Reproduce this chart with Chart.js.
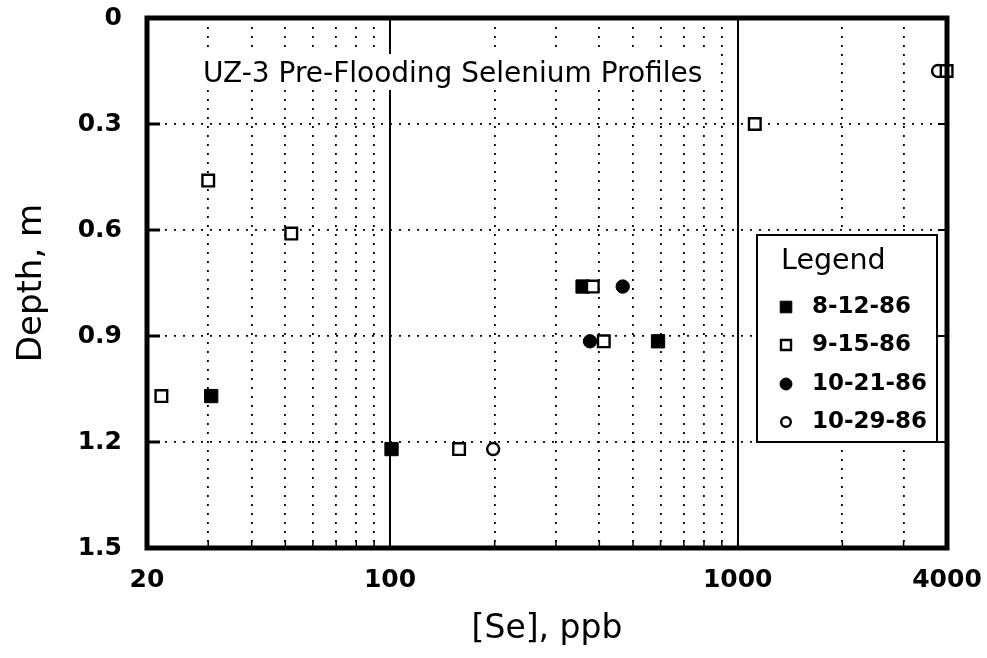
<!DOCTYPE html>
<html>
<head>
<meta charset="utf-8">
<script src="https://cdn.jsdelivr.net/npm/chart.js@4/dist/chart.umd.min.js"></script>
<style>
html,body{margin:0;padding:0;background:#fff;}
#wrap{position:relative;width:987px;height:658px;}
</style>
</head>
<body>
<div id="wrap"><canvas id="c" width="987" height="658"></canvas></div>
<script>
// ---- data ----
const seriesLabels = ['8-12-86', '9-15-86', '10-21-86', '10-29-86'];

const se_081286    = [30.6, 101, 358, 590];
const depth_081286 = [1.07, 1.22, 0.76, 0.915];

const se_091586    = [22, 30, 52, 158, 383, 412, 1120, 3990];
const depth_091586 = [1.07, 0.46, 0.61, 1.22, 0.76, 0.915, 0.30, 0.15];

const se_102186    = [376, 467];
const depth_102186 = [0.915, 0.76];

const se_102986    = [198, 3770];
const depth_102986 = [1.22, 0.15];

const xGridValues  = [20, 30, 40, 50, 60, 70, 80, 90, 100, 200, 300, 400, 500, 600, 700, 800, 900, 1000, 2000, 3000, 4000];
const xTickLabels  = [20, 100, 1000, 4000];
const xSolidLines  = [100, 1000];
const yTickValues  = [0, 0.3, 0.6, 0.9, 1.2, 1.5];
const yTickLabels  = ['0', '0.3', '0.6', '0.9', '1.2', '1.5'];

const chartTitle = 'UZ-3 Pre-Flooding Selenium Profiles';
const xTitle = '[Se], ppb';
const yTitle = 'Depth, m';
const legendTitle = 'Legend';

const FONT = "'DejaVu Sans', sans-serif";

function pts(xs, ys) { return xs.map((x, i) => ({ x: x, y: ys[i] })); }

const datasets = [
  { label: seriesLabels[0], data: pts(se_081286, depth_081286), pointStyle: 'rect', pointRadius: 9.4,
    backgroundColor: '#000', borderColor: '#000', borderWidth: 1, order: 3, clip: false },
  { label: seriesLabels[1], data: pts(se_091586, depth_091586), pointStyle: 'rect', pointRadius: 8.2,
    backgroundColor: '#fff', borderColor: '#000', borderWidth: 2.4, order: 0, clip: false },
  { label: seriesLabels[2], data: pts(se_102186, depth_102186), pointStyle: 'circle', pointRadius: 6.7,
    backgroundColor: '#000', borderColor: '#000', borderWidth: 1, order: 2, clip: false },
  { label: seriesLabels[3], data: pts(se_102986, depth_102986), pointStyle: 'circle', pointRadius: 6,
    backgroundColor: '#fff', borderColor: '#000', borderWidth: 2.4, order: 1, clip: false }
];

const decorPlugin = {
  id: 'decor',
  beforeDatasetsDraw(chart) {
    // white band behind the in-plot title (grid is interrupted there)
    const ctx = chart.ctx;
    ctx.save();
    ctx.fillStyle = '#fff';
    ctx.fillRect(198, 54, 510, 36);
    ctx.restore();
  },
  afterDraw(chart) {
    const ctx = chart.ctx;
    const a = chart.chartArea;
    const xs = chart.scales.x, ys = chart.scales.y;
    ctx.save();
    // inner ticks on bottom
    ctx.strokeStyle = '#000';
    ctx.lineWidth = 1.5;
    xGridValues.forEach(v => {
      const px = xs.getPixelForValue(v);
      ctx.beginPath(); ctx.moveTo(px, a.bottom); ctx.lineTo(px, a.bottom - 8); ctx.stroke();
    });
    // inner ticks on left and right
    yTickValues.forEach(v => {
      const py = ys.getPixelForValue(v);
      ctx.lineWidth = 3;
      ctx.beginPath(); ctx.moveTo(a.left, py); ctx.lineTo(a.left + 13, py); ctx.stroke();
      ctx.lineWidth = 2;
      ctx.beginPath(); ctx.moveTo(a.right, py); ctx.lineTo(a.right - 9, py); ctx.stroke();
    });
    // frame
    ctx.lineWidth = 5;
    ctx.strokeRect(a.left, a.top, a.right - a.left, a.bottom - a.top);

    // chart title inside plot
    ctx.fillStyle = '#000';
    ctx.font = '28px ' + FONT;
    ctx.textAlign = 'left';
    ctx.textBaseline = 'alphabetic';
    ctx.fillText(chartTitle, 203, 82);

    // legend box
    const bx = 757, by = 235, bw = 180, bh = 207;
    ctx.fillStyle = '#fff';
    ctx.fillRect(bx, by, bw, bh);
    ctx.lineWidth = 2;
    ctx.strokeStyle = '#000';
    ctx.strokeRect(bx, by, bw, bh);
    ctx.fillStyle = '#000';
    ctx.font = '28.5px ' + FONT;
    ctx.fillText(legendTitle, 781, 269);
    ctx.font = 'bold 23px ' + FONT;
    ctx.textBaseline = 'middle';
    const rowY = [307, 345, 384, 422];
    chart.data.datasets.forEach((ds, i) => {
      const cx = 786, cy = rowY[i];
      ctx.lineWidth = ds.borderWidth;
      ctx.fillStyle = ds.backgroundColor;
      ctx.strokeStyle = ds.borderColor;
      ctx.beginPath();
      if (ds.pointStyle === 'rect') {
        const s = ds.backgroundColor === '#000' ? 5.8 : 5;
        ctx.rect(cx - s, cy - s, 2 * s, 2 * s);
      } else {
        const r = ds.backgroundColor === '#000' ? 6 : 4.8;
        ctx.arc(cx, cy, r, 0, Math.PI * 2);
      }
      ctx.fill(); ctx.stroke();
      ctx.fillStyle = '#000';
      ctx.fillText(ds.label, 812, cy);
    });
    ctx.restore();
  }
};

new Chart(document.getElementById('c'), {
  type: 'scatter',
  data: { datasets: datasets },
  options: {
    responsive: false,
    animation: false,
    layout: { padding: { top: 18, right: 40, left: 0, bottom: 0 } },
    plugins: { legend: { display: false }, tooltip: { enabled: false }, title: { display: false } },
    scales: {
      x: {
        type: 'logarithmic', min: 20, max: 4000,
        afterBuildTicks: s => { s.ticks = xGridValues.map(v => ({ value: v })); },
        afterFit: s => { s.height = 110; s.paddingLeft = 0; s.paddingRight = 0; },
        ticks: {
          autoSkip: false, maxRotation: 0, minRotation: 0, padding: 17, color: '#000',
          font: { family: FONT, size: 25, weight: 'bold' },
          callback: v => xTickLabels.includes(v) ? String(v) : ''
        },
        grid: {
          color: '#000', drawTicks: false,
          lineWidth: c => (c.tick && xSolidLines.includes(c.tick.value)) ? 2 : 1.8
        },
        border: {
          display: false,
          dash: c => (c.tick && xSolidLines.includes(c.tick.value)) ? [] : [2, 7]
        },
        title: { display: true, text: xTitle, color: '#000', font: { family: FONT, size: 33 }, padding: { top: 0, bottom: 9 } }
      },
      y: {
        type: 'linear', reverse: true, min: 0, max: 1.5,
        afterBuildTicks: s => { s.ticks = yTickValues.map(v => ({ value: v })); },
        afterFit: s => { s.width = 147; s.paddingTop = 0; s.paddingBottom = 0; },
        ticks: {
          padding: 25, color: '#000',
          font: { family: FONT, size: 25, weight: 'bold' },
          callback: v => { const i = yTickValues.indexOf(v); return i >= 0 ? yTickLabels[i] : ''; }
        },
        grid: { color: '#000', drawTicks: false, lineWidth: 1.8 },
        border: { display: false, dash: [2, 7] },
        title: { display: true, text: yTitle, color: '#000', font: { family: FONT, size: 34 }, padding: { top: 12, bottom: 0 } }
      }
    }
  },
  plugins: [decorPlugin]
});
</script>
</body>
</html>
